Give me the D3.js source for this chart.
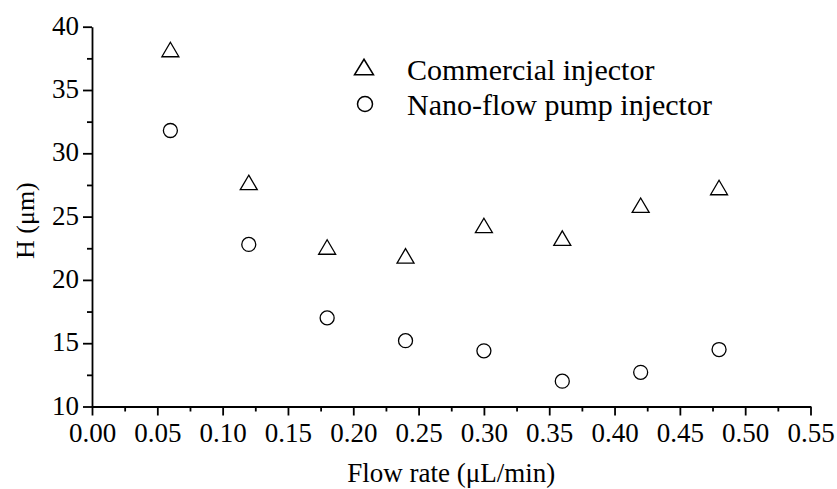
<!DOCTYPE html>
<html>
<head>
<meta charset="utf-8">
<script src="https://cdn.jsdelivr.net/npm/d3@7"></script>
<style>
  html, body { margin: 0; padding: 0; background: #fff; }
  svg { display: block; }
  svg text {
    font-family: "Liberation Serif", "Times New Roman", Tinos, "DejaVu Serif", serif !important;
    fill: #000;
  }
</style>
</head>
<body>
<svg id="chart" width="837" height="489"></svg>
<script>
// Flow rate (µL/min) at which each run was made
const flowRates = [0.06, 0.12, 0.18, 0.24, 0.30, 0.36, 0.42, 0.48];
// Plate height H (µm) for each injector
const commercialH = [38.2, 27.7, 22.6, 21.9, 24.3, 23.3, 25.9, 27.3];
const nanoFlowH   = [31.8, 22.8, 17.0, 15.2, 14.4, 12.0, 12.7, 14.5];

const seriesNames = ["Commercial injector", "Nano-flow pump injector"];

const xMajorTicks = [0.00, 0.05, 0.10, 0.15, 0.20, 0.25, 0.30, 0.35, 0.40, 0.45, 0.50, 0.55];
const xMinorTicks = [0.025, 0.075, 0.125, 0.175, 0.225, 0.275, 0.325, 0.375, 0.425, 0.475, 0.525];
const yMajorTicks = [10, 15, 20, 25, 30, 35, 40];
const yMinorTicks = [12.5, 17.5, 22.5, 27.5, 32.5, 37.5];

const serif = '"Liberation Serif", "Times New Roman", Tinos, "DejaVu Serif", serif';
const svg = d3.select("#chart").attr("font-family", serif);

const x = d3.scaleLinear().domain([0, 0.55]).range([92, 810.5]);
const y = d3.scaleLinear().domain([10, 40]).range([406.5, 26.7]);

const axisStroke = 1.8;

// x axis: major ticks with labels, minor ticks without
const gx = svg.append("g").attr("transform", `translate(0,${y(10)})`);
gx.call(d3.axisBottom(x).tickValues(xMajorTicks).tickFormat(d3.format(".2f"))
  .tickSize(9).tickSizeOuter(0).tickPadding(5));
const gxm = svg.append("g").attr("transform", `translate(0,${y(10)})`);
gxm.call(d3.axisBottom(x).tickValues(xMinorTicks).tickFormat("").tickSize(5).tickSizeOuter(0));
gxm.select(".domain").remove();

// y axis
const gy = svg.append("g").attr("transform", `translate(${x(0)},0)`);
gy.call(d3.axisLeft(y).tickValues(yMajorTicks).tickFormat(d3.format("d"))
  .tickSize(9).tickSizeOuter(0).tickPadding(4));
const gym = svg.append("g").attr("transform", `translate(${x(0)},0)`);
gym.call(d3.axisLeft(y).tickValues(yMinorTicks).tickFormat("").tickSize(5).tickSizeOuter(0));
gym.select(".domain").remove();

svg.selectAll("g").attr("font-family", serif);
svg.selectAll(".domain, .tick line")
  .attr("stroke", "#000").attr("stroke-width", axisStroke);
svg.selectAll(".tick text")
  .style("font-family", serif)
  .attr("font-size", 27).attr("fill", "#000");
gx.selectAll(".tick text").attr("dy", "0.78em");
gy.selectAll(".tick text").attr("dy", "0.28em");

// axis titles
svg.append("text")
  .attr("x", (x(0) + x(0.55)) / 2).attr("y", 482)
  .attr("text-anchor", "middle").attr("font-size", 27)
  .text("Flow rate (μL/min)");

svg.append("text")
  .attr("transform", `translate(34,${(y(10) + y(40)) / 2 + 4}) rotate(-90)`)
  .attr("text-anchor", "middle").attr("font-size", 26)
  .text("H (μm)");

// marker shapes
function trianglePath(w, h) {
  return `M0,${-h / 2}L${w / 2},${h / 2}L${-w / 2},${h / 2}Z`;
}

const commercial = flowRates.map((f, i) => ({ f, h: commercialH[i] }));
const nano = flowRates.map((f, i) => ({ f, h: nanoFlowH[i] }));

svg.append("g").selectAll("path").data(commercial).join("path")
  .attr("transform", d => `translate(${x(d.f)},${y(d.h)})`)
  .attr("d", trianglePath(17, 14.5))
  .attr("fill", "none").attr("stroke", "#000").attr("stroke-width", 1.3);

svg.append("g").selectAll("circle").data(nano).join("circle")
  .attr("cx", d => x(d.f)).attr("cy", d => y(d.h)).attr("r", 7)
  .attr("fill", "none").attr("stroke", "#000").attr("stroke-width", 1.3);

// legend
const legend = svg.append("g");
legend.append("path")
  .attr("transform", "translate(364,67)")
  .attr("d", trianglePath(19, 15.5))
  .attr("fill", "none").attr("stroke", "#000").attr("stroke-width", 1.5);
legend.append("circle")
  .attr("cx", 365).attr("cy", 104).attr("r", 7.5)
  .attr("fill", "none").attr("stroke", "#000").attr("stroke-width", 1.5);
legend.selectAll("text.label").data(seriesNames).join("text")
  .attr("class", "label")
  .attr("x", 407).attr("y", (d, i) => 80 + i * 35)
  .attr("font-size", 30).text(d => d);
</script>
</body>
</html>
